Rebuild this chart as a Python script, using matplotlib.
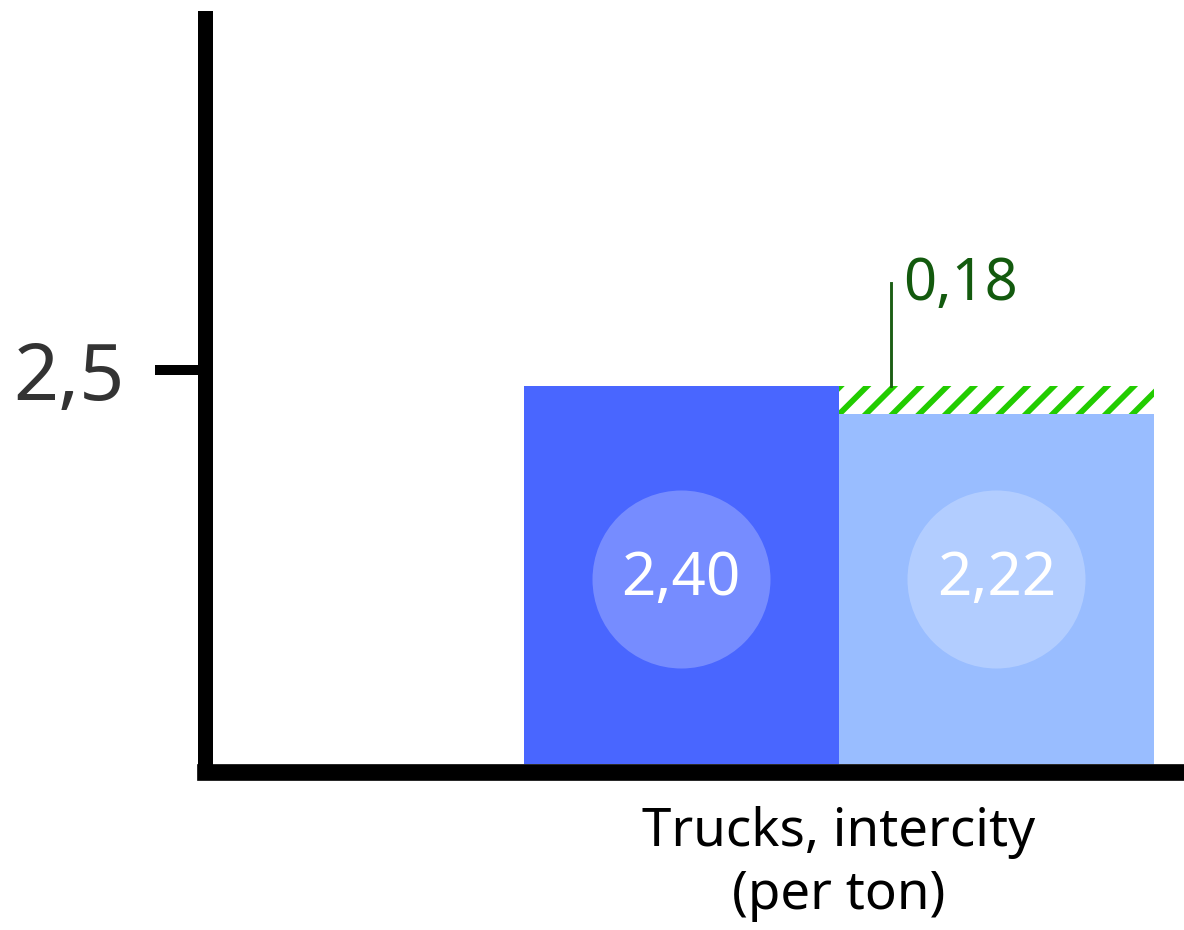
import matplotlib
matplotlib.use("Agg")
import matplotlib.pyplot as plt

# data
categories = ["Trucks, intercity\n(per ton)"]
before = [2.40]
after = [2.22]
yticks = [2.5]
ytick_labels = ["2,5"]


def fmt(v):
    return f"{v:.2f}".replace(".", ",")


plt.rcParams['font.family'] = ['Noto Sans', 'DejaVu Sans']
plt.rcParams['hatch.linewidth'] = 2.6

# dpi 160 so that the hatch spacing matches the reference
fig = plt.figure(figsize=(7.4, 5.8125), dpi=160)
ax = fig.add_axes([0.1731, 0.1694, 0.8269, 0.8108])

bar_w = 1.0
xticks = []
for i, cat in enumerate(categories):
    x0 = 2 * i
    diff = before[i] - after[i]
    ax.bar(x0, before[i], width=bar_w, align='edge', color='#4966ff', linewidth=0)
    ax.bar(x0 + bar_w, after[i], width=bar_w, align='edge', color='#99bdff', linewidth=0)
    # hatched gap between the two values
    ax.bar(x0 + bar_w, diff, bottom=after[i], width=bar_w, align='edge',
           facecolor='white', edgecolor='#22cc00', linewidth=0, hatch='//')

    # value bubbles
    ax.scatter([x0 + bar_w / 2, x0 + 1.5 * bar_w], [1.175, 1.175], s=6416,
               color='white', alpha=0.25, linewidths=0, zorder=3)
    ax.text(x0 + bar_w / 2, 1.175, fmt(before[i]), color='white', fontsize=27,
            ha='center', va='center', zorder=4)
    ax.text(x0 + 1.5 * bar_w, 1.175, fmt(after[i]), color='white', fontsize=27,
            ha='center', va='center', zorder=4)

    # difference callout
    lx = x0 + bar_w + 0.165
    ax.plot([lx, lx], [before[i], before[i] + 0.655], color='#1b5e14', lw=1.3)
    ax.text(x0 + bar_w + 0.203, before[i] + 0.546, fmt(diff), color='#135a0e',
            fontsize=26, ha='left', va='baseline')
    xticks.append(x0 + bar_w)

ax.set_xlim(-1.011, 2.095)
ax.set_ylim(-0.054, 4.736)

for s in ['top', 'right']:
    ax.spines[s].set_visible(False)
ax.spines['left'].set_linewidth(6.75)
ax.spines['bottom'].set_linewidth(7.5)
for s in ['left', 'bottom']:
    ax.spines[s].set_capstyle('projecting')
    ax.spines[s].set_color('black')

ax.set_yticks(yticks)
ax.set_yticklabels(ytick_labels)
ax.tick_params(axis='y', length=22.5, width=4.5, color='black', pad=13.5,
               labelsize=35.5, labelcolor='#333333')

ax.set_xticks(xticks)
ax.set_xticklabels(categories, linespacing=1.25)
ax.tick_params(axis='x', length=0, pad=15, labelsize=23.8, labelcolor='black')

fig.savefig("out.png", dpi=160)
